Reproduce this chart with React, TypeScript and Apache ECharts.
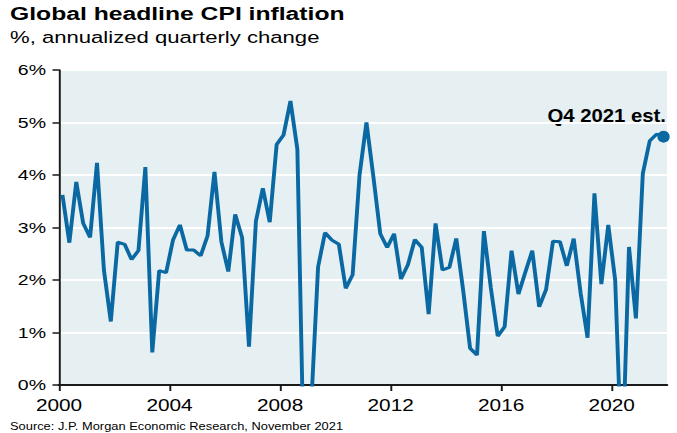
import React, { useEffect, useRef } from "react";
import * as echarts from "echarts";

// ---- data ----
const firstYear = 2000;
// Global headline CPI, % annualized quarterly change, 2000Q1 .. 2021Q4
const cpiValues = [
  3.62, 2.71, 3.87, 3.08, // 2000
  2.81, 4.23, 2.19, 1.21, // 2001
  2.72, 2.68, 2.39, 2.56, // 2002
  4.15, 0.62, 2.18, 2.14, // 2003
  2.76, 3.05, 2.57, 2.57, // 2004
  2.46, 2.84, 4.06, 2.73, // 2005
  2.16, 3.25, 2.81, 0.73, // 2006
  3.12, 3.75, 3.1, 4.58, // 2007
  4.76, 5.41, 4.49, -1.9, // 2008
  -0.4, 2.25, 2.9, 2.76, // 2009
  2.68, 1.84, 2.1, 4.0, // 2010
  5.0, 3.97, 2.88, 2.62, // 2011
  2.88, 2.02, 2.29, 2.77, // 2012
  2.62, 1.35, 3.08, 2.19, // 2013
  2.24, 2.79, 1.8, 0.7, // 2014
  0.57, 2.93, 1.85, 0.93, // 2015
  1.11, 2.56, 1.73, 2.15, // 2016
  2.56, 1.49, 1.82, 2.74, // 2017
  2.73, 2.27, 2.79, 1.75, // 2018
  0.9, 3.65, 1.92, 3.05, // 2019
  2.0, -1.7, 2.63, 1.27, // 2020
  4.03, 4.65, 4.78, 4.73, // 2021
];
const xTickYears = [2000, 2004, 2008, 2012, 2016, 2020];
const titleText = "Global headline CPI inflation";
const subtitleText = "%, annualized quarterly change";
const estimateText = "Q4 2021 est.";
const sourceText = "Source: J.P. Morgan Economic Research, November 2021";

// ---- layout ----
const W = 677;
const H = 433;
const S = 1.3; // horizontal stretch of the reference
const CW = W / S;
const FONT = '"Liberation Sans", Arial, Helvetica, sans-serif';
const LINE_COLOR = "#0a68a3";

export default function App() {
  const ref = useRef<HTMLDivElement>(null);

  useEffect(() => {
    if (!ref.current) return;
    const chart = echarts.init(ref.current, null, { renderer: "svg" });
    const lineData = cpiValues.map((v, i) => [firstYear + (i + 0.5) / 4, v]);
    const last = lineData[lineData.length - 1];

    chart.setOption({
      animation: false,
      grid: {
        left: 59 / S,
        right: (W - 666.7) / S,
        top: 70,
        bottom: 48,
        show: true,
        backgroundColor: "#e6eff2",
        borderWidth: 0,
        containLabel: false,
        outerBoundsMode: "none",
      },
      xAxis: {
        type: "value",
        min: 2000,
        max: 2022,
        interval: 4,
        axisLine: { show: true, onZero: false, lineStyle: { color: "#1a1a1a", width: 2 } },
        axisTick: {
          show: true,
          length: 6,
          customValues: xTickYears,
          lineStyle: { color: "#1a1a1a", width: 1.5 },
        },
        axisLabel: {
          customValues: xTickYears,
          formatter: (v: number) => String(v),
          color: "#000",
          fontSize: 16,
          fontFamily: FONT,
          margin: 12,
        },
        splitLine: { show: false },
      },
      yAxis: {
        type: "value",
        min: 0,
        max: 6,
        interval: 1,
        axisLine: { show: true, lineStyle: { color: "#1a1a1a", width: 1.5 } },
        axisTick: { show: true, length: 5, lineStyle: { color: "#1a1a1a", width: 1.5 } },
        axisLabel: {
          formatter: "{value}%",
          color: "#000",
          fontSize: 15,
          fontFamily: FONT,
          margin: 10,
        },
        splitLine: { show: true, lineStyle: { color: "#ffffff", width: 2 } },
      },
      series: [
        {
          type: "line",
          data: lineData,
          symbol: "none",
          clip: true,
          lineStyle: { color: LINE_COLOR, width: 3 },
          z: 3,
        },
        {
          type: "scatter",
          data: [last],
          symbol: "circle",
          symbolSize: [9.5, 12],
          itemStyle: { color: LINE_COLOR, opacity: 1 },
          z: 4,
        },
      ],
      graphic: [
        {
          type: "text",
          x: 10 / S,
          y: 14,
          style: {
            text: titleText,
            fontSize: 19,
            fontWeight: "bold",
            fontFamily: FONT,
            fill: "#000",
            verticalAlign: "middle",
          },
        },
        {
          type: "text",
          x: 10 / S,
          y: 37,
          style: {
            text: subtitleText,
            fontSize: 17,
            fontFamily: FONT,
            fill: "#000",
            verticalAlign: "middle",
          },
        },
        {
          type: "text",
          x: 666 / S,
          y: 116,
          scaleX: 1.13 / S,
          style: {
            text: estimateText,
            fontSize: 18,
            fontWeight: "bold",
            fontFamily: FONT,
            fill: "#000",
            align: "right",
            verticalAlign: "middle",
          },
        },
        {
          type: "text",
          x: 10 / S,
          y: 432,
          scaleX: 0.9,
          style: {
            text: sourceText,
            fontSize: 11,
            fontFamily: FONT,
            fill: "#000",
            verticalAlign: "bottom",
          },
        },
      ],
    });

    return () => chart.dispose();
  }, []);

  return (
    <div
      style={{
        position: "absolute",
        left: 0,
        top: 0,
        width: W,
        height: H,
        overflow: "hidden",
        background: "#fff",
      }}
    >
      <div
        ref={ref}
        style={{ width: CW, height: H, transform: `scaleX(${S})`, transformOrigin: "0 0" }}
      />
    </div>
  );
}
